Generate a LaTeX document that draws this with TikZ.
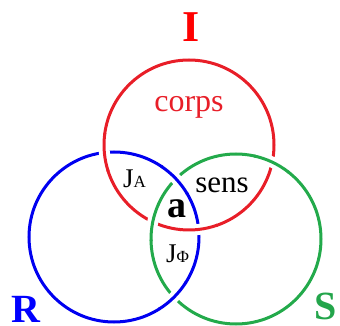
\documentclass[tikz,border=0pt]{standalone}
\usepackage{fontspec}
\newfontfamily\tms{Liberation Serif}
\definecolor{ringred}{RGB}{232,30,40}
\definecolor{ringblue}{RGB}{0,0,240}
\definecolor{ringgreen}{RGB}{35,170,75}
\definecolor{lblred}{RGB}{255,0,0}
\definecolor{lblblue}{RGB}{0,0,255}
\definecolor{lblgreen}{RGB}{35,165,75}
\newcommand\ringover[3]{%
  \draw[white, line width=11pt] ([shift={(#3-12:85pt)}]#2) arc[start angle=#3-12, end angle=#3+12, radius=85pt];
  \draw[#1, ring] ([shift={(#3-13:85pt)}]#2) arc[start angle=#3-13, end angle=#3+13, radius=85pt];
}
\begin{document}
\begin{tikzpicture}[x=1pt,y=-1pt,
  ring/.style={line width=3pt},
  lbl/.style={inner sep=0pt, anchor=base}]
\useasboundingbox (0,0) rectangle (340,326);
\coordinate (cI) at (189,145);
\coordinate (cR) at (114,237);
\coordinate (cS) at (236,239);
\draw[ringred, ring] (cI) circle[radius=85pt];
\draw[ringblue, ring] (cR) circle[radius=85pt];
\draw[ringgreen, ring] (cS) circle[radius=85pt];
% red over blue
\ringover{ringred}{cI}{-175}
\ringover{ringred}{cI}{-83.5}
% green over red
\ringover{ringgreen}{cS}{64.8}
\ringover{ringgreen}{cS}{168.4}
% blue over green
\ringover{ringblue}{cR}{43.2}
\ringover{ringblue}{cR}{-45.1}
% labels
\node[lbl] (lI) at (191,42) {\fontsize{44}{44}\selectfont\tms\bfseries\color{lblred}I};
\node[lbl, anchor=base west] (lR) at (11,322) {\fontsize{40}{40}\selectfont\tms\bfseries\color{lblblue}R};
\node[lbl, anchor=base west] (lS) at (314,319) {\fontsize{40}{40}\selectfont\tms\bfseries\color{lblgreen}S};
\node[lbl] (corps) at (189,112) {\fontsize{32}{32}\selectfont\tms\color{ringred}corps};
\node[lbl] (sens) at (222,193) {\fontsize{31}{31}\selectfont\tms sens};
\node[lbl] (a) at (176.5,217) {\fontsize{38}{38}\selectfont\tms\bfseries a};
\node[lbl, anchor=base west] (JA) at (123,187) {\tms\fontsize{27}{27}\selectfont J\fontsize{17}{17}\selectfont A};
\node[lbl, anchor=base west] (JPhi) at (166,262) {\tms\fontsize{27}{27}\selectfont J\fontsize{17}{17}\selectfont Φ};
\end{tikzpicture}
\end{document}
